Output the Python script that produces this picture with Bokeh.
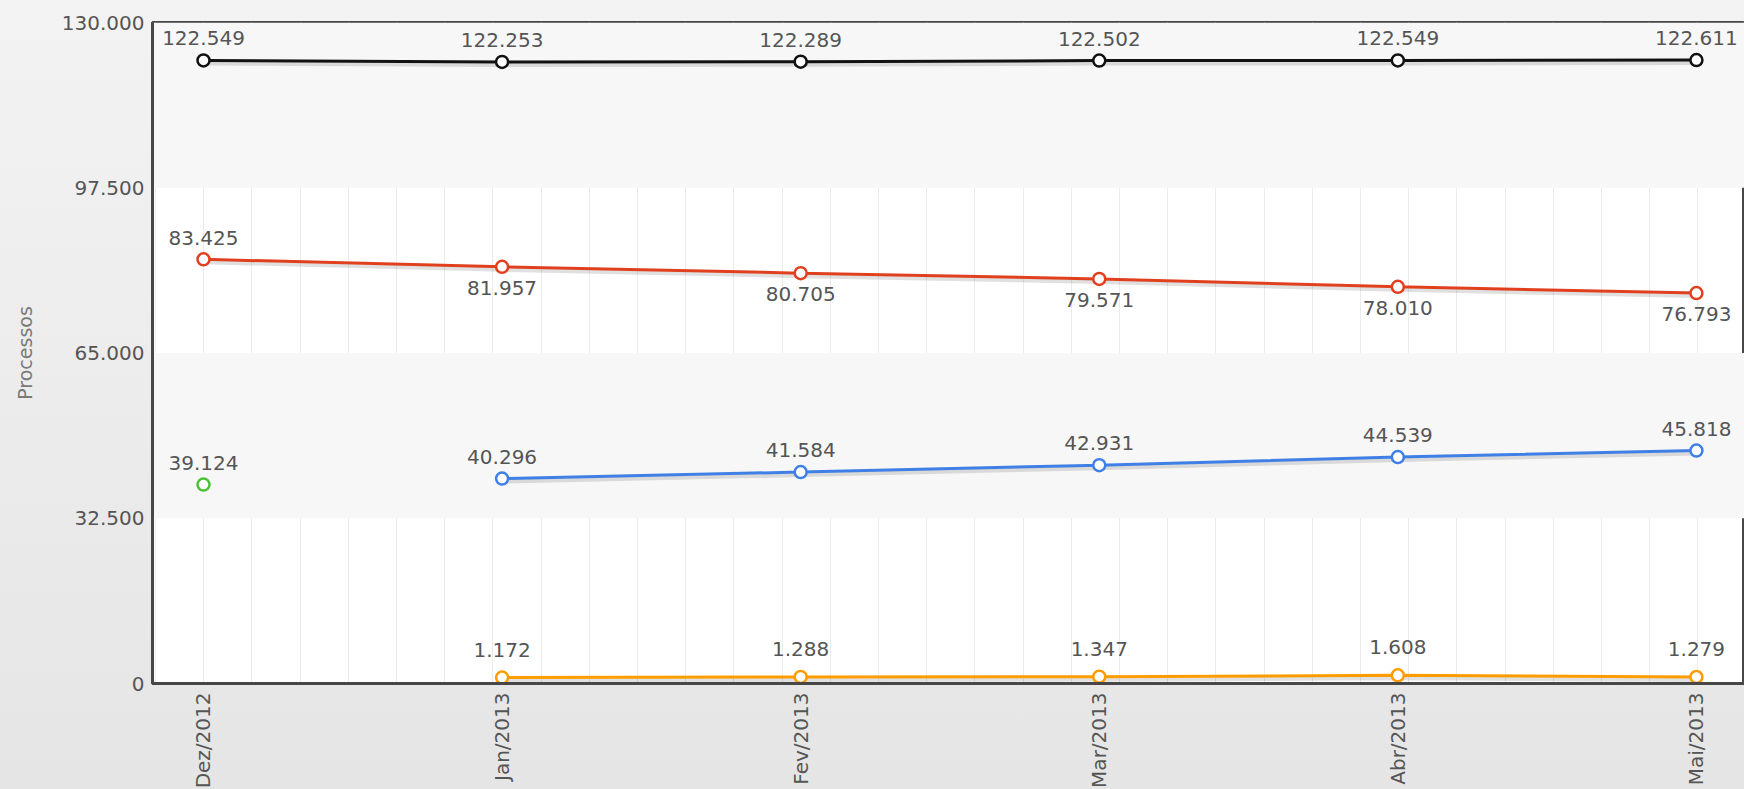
import math
import numpy as np
from bokeh.plotting import figure
from bokeh.models import (Range1d, FixedTicker, CustomJSTickFormatter,
                          BoxAnnotation, InlineStyleSheet)
from bokeh.core.properties import value
from bokeh.embed import file_html
from bokeh.resources import INLINE

# ---------------- data ----------------
months = ["Dez/2012", "Jan/2013", "Fev/2013", "Mar/2013", "Abr/2013", "Mai/2013"]
total = [122549, 122253, 122289, 122502, 122549, 122611]
red_series = [83425, 81957, 80705, 79571, 78010, 76793]
blue_series = [None, 40296, 41584, 42931, 44539, 45818]
green_series = [39124, None, None, None, None, None]
orange_series = [None, 1172, 1288, 1347, 1608, 1279]
y_ticks = [0, 32500, 65000, 97500, 130000]

# ---------------- figure ----------------
FONT = "DejaVu Sans"
TXT = "#555555"
Y_MAX = y_ticks[-1]
FRAME_H = 661
FRAME_W = 1592

p = figure(frame_width=FRAME_W, frame_height=FRAME_H,
           x_range=Range1d(-0.1708, 5.161), y_range=Range1d(0, Y_MAX),
           output_backend="svg", toolbar_location=None,
           min_border_left=152, min_border_top=22, min_border_right=0, min_border_bottom=99)

p.border_fill_alpha = 0
p.stylesheets = [InlineStyleSheet(css=":host { background: linear-gradient(#f3f3f3, #e5e5e5); }")]
p.background_fill_color = "#ffffff"
p.outline_line_color = "#474747"
p.outline_line_width = 3

# alternating horizontal bands
for lo, hi in [(y_ticks[1], y_ticks[2]), (y_ticks[3], y_ticks[4])]:
    p.add_layout(BoxAnnotation(bottom=lo, top=hi, fill_color="#f7f7f7", fill_alpha=1,
                               line_alpha=0, level="underlay"))

# grids
p.ygrid.grid_line_color = None
step = 0.16142
p.xgrid.ticker = FixedTicker(ticks=[-0.1608 + step * k for k in range(33)])
p.xgrid.grid_line_color = "#ebebeb"
p.xgrid.grid_line_width = 1

# axes
p.xaxis.ticker = FixedTicker(ticks=list(range(len(months))))
p.xaxis.major_label_overrides = {i: m for i, m in enumerate(months)}
p.xaxis.major_label_orientation = math.pi / 2
p.yaxis.ticker = FixedTicker(ticks=y_ticks)
p.yaxis.formatter = CustomJSTickFormatter(
    code="return String(Math.round(tick)).replace(/\\B(?=(\\d{3})+(?!\\d))/g, '.');")
p.yaxis.axis_label = "Processos"
for ax in (p.xaxis[0], p.yaxis[0]):
    ax.axis_line_color = "#474747"
    ax.axis_line_width = 3
    ax.major_tick_out = 0
    ax.major_tick_in = 0
    ax.minor_tick_out = 0
    ax.minor_tick_in = 0
    ax.major_label_text_font = FONT
    ax.major_label_text_font_size = "20px"
    ax.major_label_text_color = TXT
p.xaxis.major_label_standoff = 9
p.yaxis.major_label_standoff = 8
p.yaxis.axis_label_text_font = FONT
p.yaxis.axis_label_text_font_size = "19px"
p.yaxis.axis_label_text_font_style = "normal"
p.yaxis.axis_label_text_color = "#7a7a7a"
p.yaxis.axis_label_standoff = 23

# shadow range: same data shifted a few pixels down
shift = 3 * Y_MAX / FRAME_H
p.extra_y_ranges = {"shadow": Range1d(shift, Y_MAX + shift)}


def fmt(v):
    return f"{v:,}".replace(",", ".")


series = [
    (total, "#111111", [-15] * 6),
    (red_series, "#e0401e", [-14, 14, 14, 14, 14, 14]),
    (blue_series, "#3f7fe6", [-15] * 6),
    (green_series, "#4cc236", [-15] * 6),
    (orange_series, "#ff9c00", [-21] * 6),
]

xs_all = list(range(len(months)))
for vals, color, offs in series:
    ys = [np.nan if v is None else v for v in vals]
    p.line(xs_all, ys, line_color="#000000", line_alpha=0.12, line_width=4,
           y_range_name="shadow")
for vals, color, offs in series:
    ys = [np.nan if v is None else v for v in vals]
    p.line(xs_all, ys, line_color=color, line_width=3)
    idx = [i for i, v in enumerate(vals) if v is not None]
    p.scatter([xs_all[i] for i in idx], [vals[i] for i in idx], marker="circle", size=12,
              fill_color="white", line_color=color, line_width=2.5)
    for i in idx:
        above = offs[i] < 0
        p.text([xs_all[i]], [vals[i]], text=[fmt(vals[i])], text_align="center",
               text_baseline="bottom" if above else "top", y_offset=offs[i],
               text_font=value(FONT), text_font_size="20px", text_color=TXT)

open("out.html", "w").write(file_html(p, INLINE))
